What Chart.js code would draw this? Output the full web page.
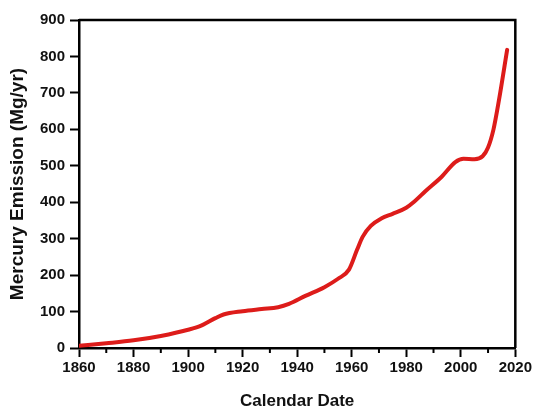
<!DOCTYPE html>
<html>
<head>
<meta charset="utf-8">
<script src="https://cdn.jsdelivr.net/npm/chart.js@4/dist/chart.umd.min.js"></script>
<style>
  html, body { margin: 0; padding: 0; background: #fff; }
  #wrap { width: 534px; height: 413px; }
</style>
</head>
<body>
<div id="wrap"><canvas id="mercury"></canvas></div>
<script>
var YEARS = [1860, 1870, 1880, 1890, 1900, 1905, 1910, 1913, 1920, 1927, 1933, 1937, 1943, 1950, 1955, 1959, 1962, 1964, 1967, 1971, 1975, 1980, 1983, 1987, 1993, 1998, 2001, 2005, 2008, 2010, 2012, 2014, 2017];
var EMISSION = [6, 13, 21, 33, 50, 62, 82, 92, 101, 107, 112, 121, 143, 167, 190, 215, 270, 305, 335, 356, 368, 385, 402, 430, 470, 510, 519, 518, 526, 550, 600, 680, 818];

var X_MIN = 1860, X_MAX = 2020;
var Y_MIN = 0, Y_MAX = 900;

var FONT = "'Liberation Sans', Arial, sans-serif";

var points = [];
for (var i = 0; i < YEARS.length; i++) {
    points.push({x: YEARS[i], y: EMISSION[i]});
}

// frame on top/right + short minor ticks on x axis
var framePlugin = {
    id: 'frame',
    afterDraw: function(chart) {
        var ctx = chart.ctx;
        var a = chart.chartArea;
        var x = chart.scales.x;
        ctx.save();
        ctx.strokeStyle = '#000';
        ctx.lineWidth = 2.5;
        ctx.beginPath();
        ctx.moveTo(a.left, a.top);
        ctx.lineTo(a.right, a.top);
        ctx.lineTo(a.right, a.bottom);
        ctx.stroke();
        ctx.lineWidth = 2;
        for (var yr = X_MIN + 10; yr < X_MAX; yr += 20) {
            var px = x.getPixelForValue(yr);
            ctx.beginPath();
            ctx.moveTo(px, a.bottom);
            ctx.lineTo(px, a.bottom + 5);
            ctx.stroke();
        }
        ctx.restore();
    }
};

var chart = new Chart(document.getElementById('mercury'), {
    type: 'line',
    data: {
        datasets: [{
            label: 'Mercury Emission',
            data: points,
            borderColor: '#dd1c1a',
            borderWidth: 4,
            borderCapStyle: 'round',
            borderJoinStyle: 'round',
            pointRadius: 0,
            cubicInterpolationMode: 'monotone',
            fill: false
        }]
    },
    options: {
        responsive: true,
        maintainAspectRatio: false,
        animation: false,
        layout: {padding: {top: 20, right: 17, left: 0, bottom: 0}},
        plugins: {
            legend: {display: false},
            tooltip: {enabled: false}
        },
        scales: {
            x: {
                type: 'linear',
                min: X_MIN,
                max: X_MAX,
                afterFit: function(s) { s.height = 65; },
                grid: {
                    drawOnChartArea: false,
                    drawTicks: true,
                    tickLength: 9,
                    tickWidth: 2,
                    tickColor: '#000'
                },
                border: {display: true, color: '#000', width: 2.5},
                ticks: {
                    stepSize: 20,
                    padding: 2,
                    color: '#111',
                    maxRotation: 0,
                    font: {family: FONT, size: 15, weight: 'bold'},
                    callback: function(v) { return String(v); }
                },
                title: {
                    display: true,
                    text: 'Calendar Date',
                    color: '#111',
                    padding: {top: 0, bottom: 1},
                    font: {family: FONT, size: 17, weight: 'bold'}
                }
            },
            y: {
                min: Y_MIN,
                max: Y_MAX,
                afterFit: function(s) { s.width = 79; },
                grid: {
                    drawOnChartArea: false,
                    drawTicks: true,
                    tickLength: 9,
                    tickWidth: 2,
                    tickColor: '#000'
                },
                border: {display: true, color: '#000', width: 2.5},
                ticks: {
                    stepSize: 100,
                    padding: 5,
                    color: '#111',
                    font: {family: FONT, size: 15, weight: 'bold'}
                },
                title: {
                    display: true,
                    text: 'Mercury Emission (Mg/yr)',
                    color: '#111',
                    padding: {top: 6, bottom: 0},
                    font: {family: FONT, size: 19, weight: 'bold'}
                }
            }
        }
    },
    plugins: [framePlugin]
});
</script>
</body>
</html>
